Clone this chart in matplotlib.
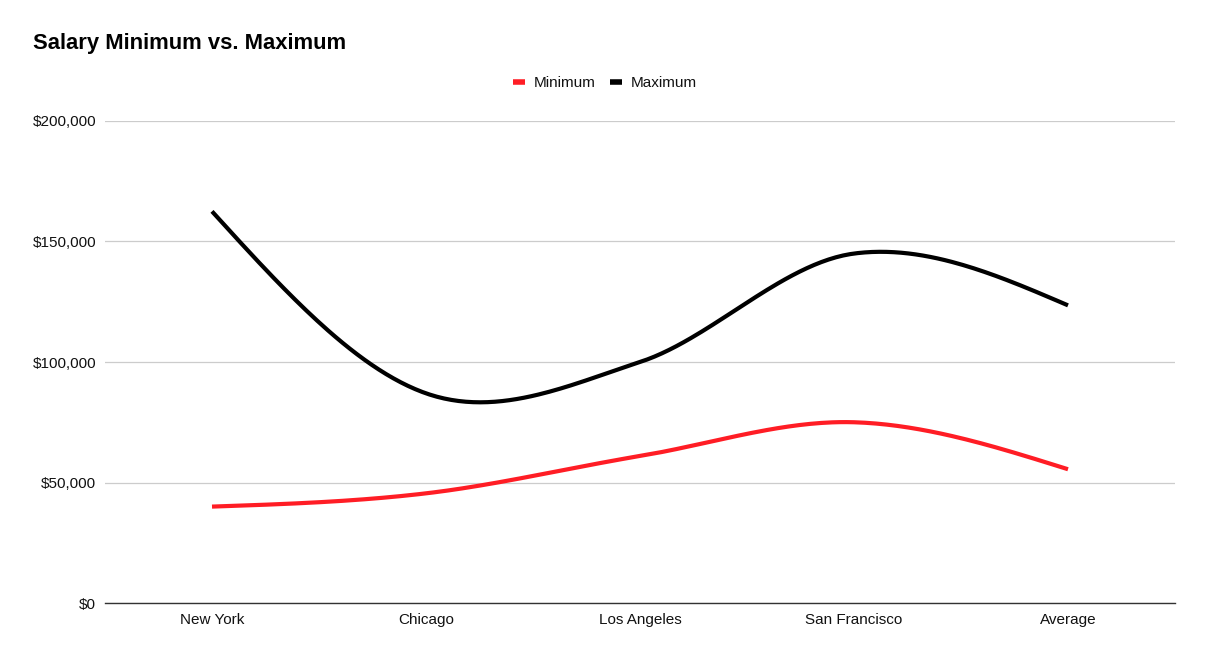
import matplotlib
matplotlib.use('Agg')
import matplotlib.pyplot as plt
from matplotlib.lines import Line2D
from matplotlib.ticker import FuncFormatter
import numpy as np

# ===== data =====
cities = ['New York', 'Chicago', 'Los Angeles', 'San Francisco', 'Average']
minimum = [40000, 45500, 61000, 75000, 55500]
maximum = [162500, 87000, 100000, 145000, 123500]

RED = '#ff1d25'
BLACK = '#000000'

plt.rcParams['font.family'] = ['Liberation Sans', 'DejaVu Sans']


def smooth(y, n=60):
    # catmull-rom style hermite curve through the points (like Sheets "smooth")
    y = np.asarray(y, dtype=float)
    k = len(y)
    m = np.zeros(k)
    for i in range(1, k - 1):
        m[i] = (y[i + 1] - y[i - 1]) / 2
    m[0] = (3 * (y[1] - y[0]) - m[1]) / 2
    m[-1] = (3 * (y[-1] - y[-2]) - m[-2]) / 2
    xs, ys = [], []
    t = np.linspace(0, 1, n)
    h00 = 2 * t**3 - 3 * t**2 + 1
    h10 = t**3 - 2 * t**2 + t
    h01 = -2 * t**3 + 3 * t**2
    h11 = t**3 - t**2
    for i in range(k - 1):
        xs.append(i + t)
        ys.append(h00 * y[i] + h10 * m[i] + h01 * y[i + 1] + h11 * m[i + 1])
    return np.concatenate(xs), np.concatenate(ys)


fig = plt.figure(figsize=(12.06, 6.57), dpi=100)
ax = fig.add_axes([105 / 1206, 54 / 657, 1070 / 1206, (603 - 121) / 657])

x_min, y_min = smooth(minimum)
x_max, y_max = smooth(maximum)
ax.plot(x_min, y_min, color=RED, lw=3, solid_capstyle='butt', zorder=3)
ax.plot(x_max, y_max, color=BLACK, lw=3, solid_capstyle='butt', zorder=3)

ax.set_xlim(-0.5, len(cities) - 0.5)
ax.set_ylim(0, 200000)
ax.set_xticks(range(len(cities)))
ax.set_xticklabels(cities)
ax.set_yticks(np.arange(0, 200001, 50000))
ax.yaxis.set_major_formatter(FuncFormatter(lambda v, p: f'${v:,.0f}'))
ax.tick_params(axis='both', length=0, labelsize=11, colors='#111111')
ax.tick_params(axis='x', pad=7)
ax.tick_params(axis='y', pad=6.5)

ax.grid(axis='y', color='#cccccc', lw=0.9)
ax.set_axisbelow(True)
for s in ['top', 'right', 'left']:
    ax.spines[s].set_visible(False)
ax.spines['bottom'].set_color('#333333')
ax.spines['bottom'].set_linewidth(1)

fig.text(33 / 1206, 1 - 43 / 657, 'Salary Minimum vs. Maximum', fontsize=15.8,
         fontweight='bold', ha='left', va='center')

handles = [Line2D([0], [0], color=RED, lw=4, solid_capstyle='butt'),
           Line2D([0], [0], color=BLACK, lw=4, solid_capstyle='butt')]
fig.legend(handles, ['Minimum', 'Maximum'], loc='center', bbox_to_anchor=(605 / 1206, 1 - 83 / 657),
           ncol=2, frameon=False, fontsize=11, handlelength=0.8, handletextpad=0.6,
           columnspacing=0.9, labelcolor='#111111')

plt.savefig('out.png', dpi=100, facecolor='white')
